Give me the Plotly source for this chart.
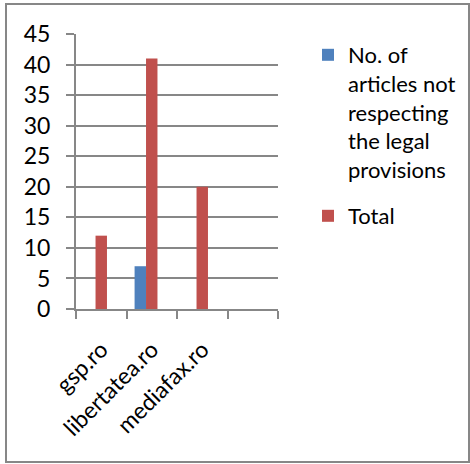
import plotly.graph_objects as go

categories = ["gsp.ro", "libertatea.ro", "mediafax.ro", " "]
not_respecting = [None, 7, None, None]
total = [12, 41, 20, None]
empty_series = [None, None, None, None]
series_names = ["No. of<br>articles not<br>respecting<br>the legal<br>provisions", "Total"]
y_ticks = [0, 5, 10, 15, 20, 25, 30, 35, 40, 45]

W, H = 470, 464
L, R, T, B = 76, 278, 34, 309
FONT = "Lato"
GREY = "#878787"

fig = go.Figure()
fig.add_trace(go.Bar(x=categories, y=not_respecting, name=series_names[0],
                     marker=dict(color="#4F81BD", line=dict(width=0)), legendgroup="a"))
fig.add_trace(go.Bar(x=categories, y=total, name=series_names[1],
                     marker=dict(color="#C0504D", line=dict(width=0)), legendgroup="b"))
fig.add_trace(go.Bar(x=categories, y=empty_series, name="", showlegend=False,
                     marker=dict(color="#9BBB59", line=dict(width=0))))

def px(x):
    return (x - L) / (R - L)

def py(y):
    return (B - y) / (B - T)

fig.update_layout(
    width=W, height=H,
    margin=dict(l=L, r=W - R, t=T, b=H - B, pad=0, autoexpand=False),
    paper_bgcolor="white", plot_bgcolor="white",
    barmode="group", bargap=0.32, bargroupgap=0,
    font=dict(family=FONT, size=22, color="#000000"),
    showlegend=True,
    legend=dict(xref="container", yref="container", x=308 / W, y=1 - 34 / H,
                xanchor="left", yanchor="top",
                valign="top", traceorder="grouped", tracegroupgap=15,
                font=dict(family=FONT, size=22), bgcolor="rgba(0,0,0,0)"),
    xaxis=dict(type="category", categoryorder="array", categoryarray=categories,
               range=[-0.5, 3.5], tickson="boundaries", ticks="outside", ticklen=8,
               tickcolor=GREY, tickwidth=2, showline=True, linecolor=GREY, linewidth=2,
               showgrid=False, tickangle=-45, tickfont=dict(family=FONT, size=23),
               ticklabelstandoff=16, automargin=False, fixedrange=True),
    yaxis=dict(range=[0, 45], tickvals=y_ticks, ticks="outside", ticklen=8,
               tickcolor=GREY, tickwidth=2, showline=True, linecolor=GREY, linewidth=2,
               showgrid=True, gridcolor=GREY, gridwidth=2, zeroline=False,
               tickfont=dict(family=FONT, size=23), ticklabelstandoff=11,
               automargin=False, fixedrange=True),
    shapes=[dict(type="rect", xref="paper", yref="paper",
                 x0=px(6), x1=px(469), y0=py(462), y1=py(4),
                 line=dict(color=GREY, width=2), layer="below")],
)

fig.write_html("out.html")
